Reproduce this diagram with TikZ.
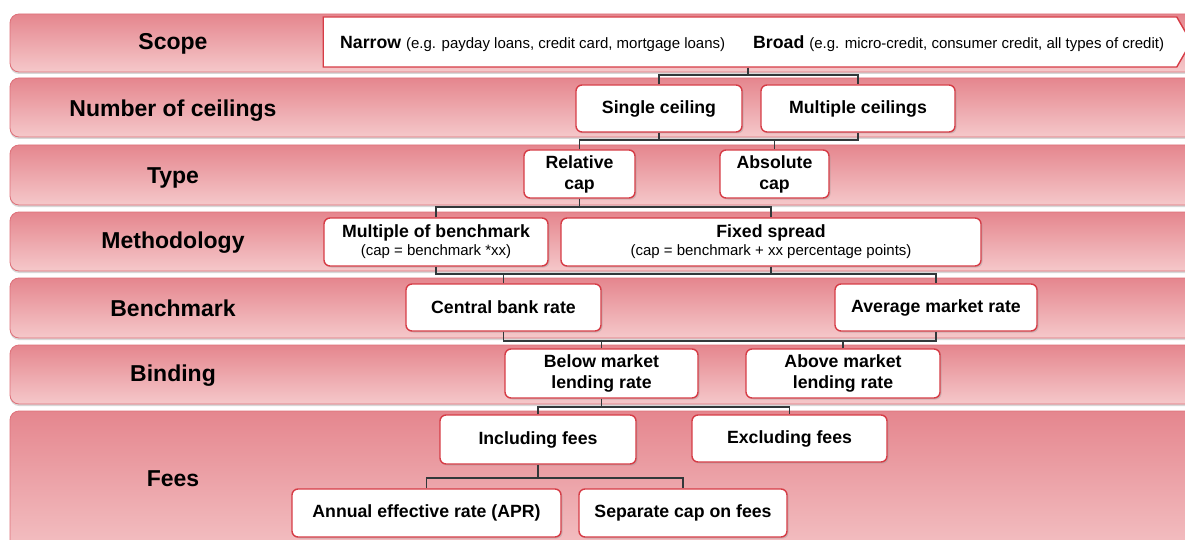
\documentclass[tikz,border=0pt]{standalone}
\usepackage{fontspec}
\setmainfont{Liberation Sans}
\usetikzlibrary{positioning,shapes.symbols,shadows}
\definecolor{bandtop}{RGB}{229,134,142}
\definecolor{bandbot}{RGB}{245,200,202}
\definecolor{bandedge}{RGB}{222,112,121}
\definecolor{boxred}{RGB}{214,60,70}
\definecolor{linkgray}{RGB}{50,56,58}
\newcommand{\rowfont}{\fontsize{23}{26}\selectfont\bfseries}
\newcommand{\boxfont}{\fontsize{17.7}{21}\selectfont\bfseries}
\newcommand{\subfont}{\fontsize{15}{18}\selectfont\mdseries}

\begin{document}
\begin{tikzpicture}[x=1pt, y=-1pt,
  band/.style={rounded corners=9pt, top color=bandtop, bottom color=bandbot,
    draw=bandedge, line width=0.8pt,
    drop shadow={shadow xshift=0pt, shadow yshift=-2pt, fill=black!30, opacity=.5}},
  rowlabel/.style={font=\rowfont, inner sep=0pt},
  choice/.style={draw=boxred, line width=1.4pt, fill=white, rounded corners=6pt,
    align=center, font=\boxfont, inner sep=0pt,
    drop shadow={shadow xshift=1.5pt, shadow yshift=-1.5pt, fill=black!40, opacity=.4}},
  link/.style={draw=linkgray, line width=1.8pt}
]
  \clip (0,0) rectangle (1185,540);
  \fill[white] (0,0) rectangle (1185,540);

  % Rows (top to bottom)
  \foreach \ya/\yb/\lbl/\yl [count=\i] in
    {14/72/Scope/44, 78/137/Number of ceilings/111, 145/205/Type/178,
     212/271/Methodology/243, 278/338/Benchmark/308, 345/404/Binding/376,
     411/570/Fees/479}
  {
    \path[band] (10,\ya) rectangle (1220,\yb);
    \node[rowlabel] (row\i) at (173,\yl) {\lbl};
  }

  % Scope arrow
  \node[signal, signal to=east, signal pointer angle=120, draw=boxred, line width=1.4pt,
    fill=white, minimum width=868pt, minimum height=50pt, inner sep=0pt]
    (scope) at (750,42) {};
  \node[anchor=west, inner sep=0pt] (narrow) at (340,44)
    {\boxfont Narrow \subfont(e.g. payday loans, credit card, mortgage loans)};
  \node[anchor=west, inner sep=0pt] (broad) at (753,44)
    {\boxfont Broad \subfont(e.g. micro-credit, consumer credit, all types of credit)};

  % Choices
  \node[choice, minimum width=166pt, minimum height=47pt] (single)   at (659,108.5) {Single ceiling};
  \node[choice, minimum width=194pt, minimum height=47pt] (multiple) at (858,108.5) {Multiple ceilings};
  \node[choice, minimum width=111pt, minimum height=48pt] (relative) at (579.5,174) {Relative\\cap};
  \node[choice, minimum width=109pt, minimum height=48pt] (absolute) at (774.5,174) {Absolute\\cap};
  \node[choice, minimum width=224pt, minimum height=48pt] (multbench) at (436,242)
    {Multiple of benchmark\\[-3pt]{\subfont(cap = benchmark *xx)}};
  \node[choice, minimum width=420pt, minimum height=48pt] (fixed) at (771,242)
    {Fixed spread\\[-3pt]{\subfont(cap = benchmark + xx percentage points)}};
  \node[choice, minimum width=195pt, minimum height=47pt] (central)  at (503.5,307.5) {Central bank rate};
  \node[choice, minimum width=202pt, minimum height=47pt] (average)  at (936,307.5) {Average market rate};
  \node[choice, minimum width=193pt, minimum height=49pt] (below)    at (601.5,373.5) {Below market\\lending rate};
  \node[choice, minimum width=194pt, minimum height=49pt] (above)    at (843,373.5) {Above market\\lending rate};
  \node[choice, minimum width=196pt, minimum height=49pt] (including) at (538,439.5) {Including fees};
  \node[choice, minimum width=195pt, minimum height=47pt] (excluding) at (789.5,438.5) {Excluding fees};
  \node[choice, minimum width=269pt, minimum height=48pt] (apr)      at (426.5,513) {Annual effective rate (APR)};
  \node[choice, minimum width=208pt, minimum height=48pt] (separate) at (683,513) {Separate cap on fees};

  % Junctions
  \coordinate (j1) at (748,75);
  \coordinate (j2) at (0,140);
  \coordinate (j3) at (0,207);
  \coordinate (j4) at (0,274);
  \coordinate (j5) at (0,341);
  \coordinate (j6) at (0,407);
  \coordinate (j7) at (0,478);

  % Connectors
  \draw[link] (scope.south -| j1) -- (j1);
  \draw[link] (single.north) |- (j1) -| (multiple.north);

  \draw[link] (relative.north) |- (j2 -| multiple.south) -- (multiple.south);
  \draw[link] (single.south) -- (single.south |- j2);
  \draw[link] (absolute.north) -- (absolute.north |- j2);

  \draw[link] (relative.south) -- (relative.south |- j3);
  \draw[link] (multbench.north) |- (j3 -| fixed.north) -- (fixed.north);

  \draw[link] (multbench.south) |- (j4 -| average.north) -- (average.north);
  \draw[link] (fixed.south) -- (fixed.south |- j4);
  \draw[link] (central.north) -- (central.north |- j4);

  \draw[link] (central.south) |- (j5 -| average.south) -- (average.south);
  \draw[link] (below.north) -- (below.north |- j5);
  \draw[link] (above.north) -- (above.north |- j5);

  \draw[link] (below.south) -- (below.south |- j6);
  \draw[link] (including.north) |- (j6 -| excluding.north) -- (excluding.north);

  \draw[link] (including.south) -- (including.south |- j7);
  \draw[link] (apr.north) |- (j7 -| separate.north) -- (separate.north);
\end{tikzpicture}
\end{document}
